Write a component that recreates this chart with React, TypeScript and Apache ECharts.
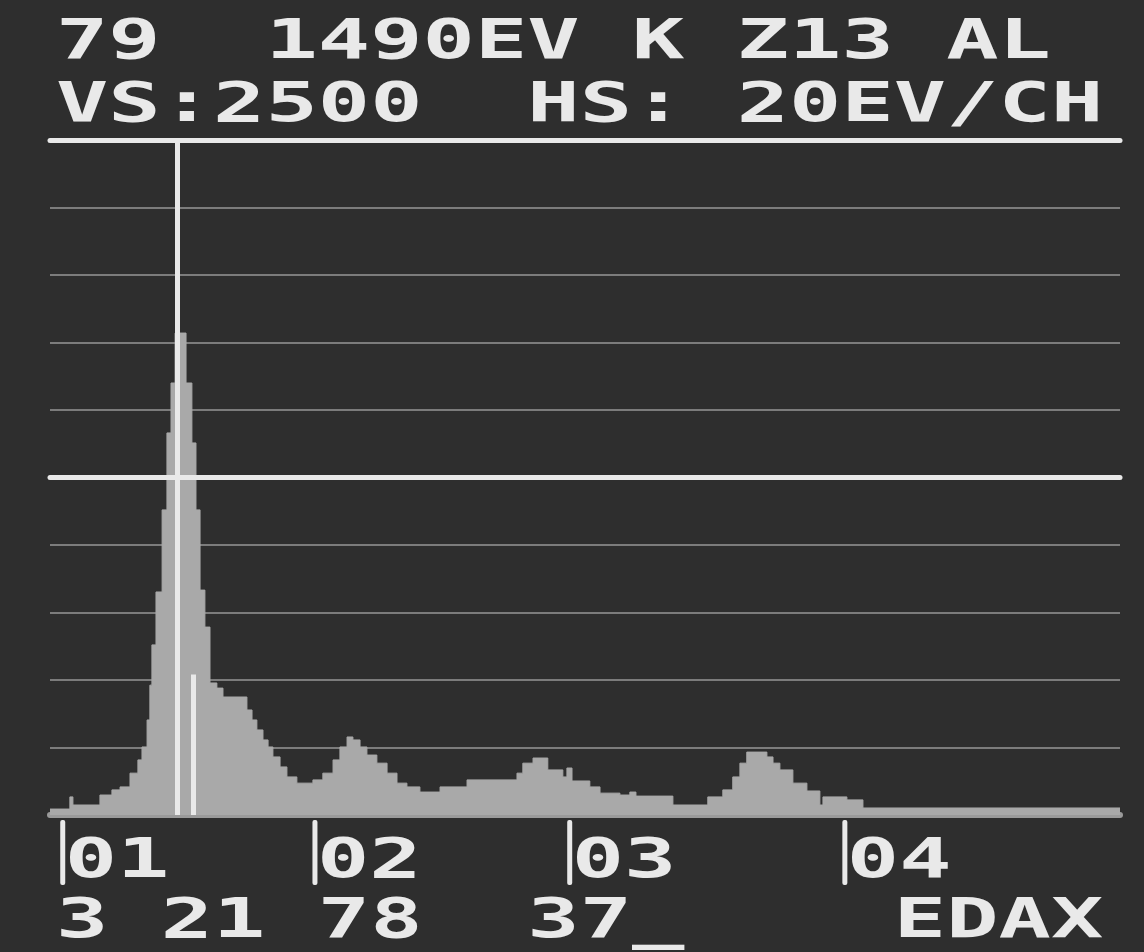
import React, { useEffect, useRef } from 'react';
import * as echarts from 'echarts';

// Spectrum staircase: channel-group start energy (keV) and counts held until the next entry
const ENERGY_KEV = [0.95, 1.028, 1.04, 1.146, 1.193, 1.225, 1.264, 1.295, 1.311, 1.331, 1.342, 1.35, 1.366, 1.39, 1.409, 1.425, 1.441, 1.484, 1.507, 1.523, 1.539, 1.558, 1.578, 1.605, 1.629, 1.723, 1.743, 1.762, 1.786, 1.806, 1.825, 1.853, 1.88, 1.919, 1.982, 2.021, 2.061, 2.088, 2.116, 2.139, 2.167, 2.194, 2.233, 2.273, 2.312, 2.351, 2.402, 2.481, 2.587, 2.783, 2.806, 2.846, 2.904, 2.963, 2.979, 2.999, 3.069, 3.109, 3.187, 3.226, 3.25, 3.395, 3.532, 3.591, 3.63, 3.658, 3.685, 3.764, 3.788, 3.815, 3.866, 3.921, 3.972, 3.984, 4.078, 4.141, 5.15];
const COUNTS = [22, 67, 37, 74, 93, 104, 155, 204, 252, 352, 481, 630, 826, 1130, 1415, 1600, 1785, 1600, 1378, 1130, 833, 696, 489, 470, 437, 389, 352, 315, 278, 252, 215, 178, 141, 118, 130, 155, 204, 252, 289, 278, 252, 222, 192, 155, 118, 104, 85, 104, 130, 155, 192, 211, 167, 141, 174, 126, 104, 81, 74, 85, 70, 37, 67, 93, 141, 192, 233, 215, 192, 167, 118, 89, 37, 67, 56, 26, 26];

const X_MIN_KEV = 0.95;
const X_MAX_KEV = 5.15;
const Y_MAX = 2500;
const Y_INTERVAL = 250;
const THICK_LEVELS = [2500, 1250];
const CURSOR_KEV = 1.452;
const KLM_KEV = 1.511;
const KLM_HEIGHT = 520;

const HEADER_LINES = ['79  1490EV K Z13 AL', 'VS:2500  HS: 20EV/CH'];
const FOOTER_LINE = '3 21 78  37_    EDAX';
const MARKER_KEV = [1.0, 1.99, 2.99, 4.07];
const MARKER_LABELS = ['01', '02', '03', '04'];

const BG = '#2e2e2e';
const HIST = '#a9a9a9';
const WHITE = '#e9e9e9';
const GRID = '#7c7c7c';

export default function App() {
  const ref = useRef<HTMLDivElement>(null);
  useEffect(() => {
    document.body.style.margin = '0';
    document.body.style.background = BG;
    const chart = echarts.init(ref.current as HTMLDivElement, null, { renderer: 'svg' });
    const font = 'bold 87px "DejaVu Sans Mono", monospace';
    const textEl = (text: string, x: number, y: number) => ({
      type: 'text',
      x,
      y,
      scaleY: 0.63,
      z: 20,
      silent: true,
      style: { text, font, fill: WHITE, textVerticalAlign: 'middle', verticalAlign: 'middle' },
    });

    chart.setOption({
      backgroundColor: BG,
      animation: false,
      grid: { left: 50, right: 24, top: 140, bottom: 137 },
      xAxis: {
        type: 'value',
        min: X_MIN_KEV,
        max: X_MAX_KEV,
        axisLabel: { show: false },
        axisTick: { show: false },
        splitLine: { show: false },
        axisLine: { show: true, lineStyle: { color: '#9a9a9a', width: 6 } },
      },
      yAxis: {
        type: 'value',
        min: 0,
        max: Y_MAX,
        interval: Y_INTERVAL,
        axisLabel: { show: false },
        axisTick: { show: false },
        axisLine: { show: false },
        splitLine: { show: true, lineStyle: { color: GRID, width: 2 } },
      },
      series: [
        {
          type: 'line',
          data: [],
          z: 1,
          silent: true,
          markLine: {
            silent: true,
            symbol: 'none',
            label: { show: false },
            lineStyle: { color: WHITE, width: 5, type: 'solid', cap: 'round' },
            data: THICK_LEVELS.map((v) => ({ yAxis: v })),
          },
        },
        {
          type: 'line',
          step: 'end',
          z: 2,
          silent: true,
          symbol: 'none',
          data: ENERGY_KEV.map((e, i) => [e, COUNTS[i]]),
          lineStyle: { width: 1, color: HIST },
          areaStyle: { color: HIST, opacity: 1 },
        },
        {
          type: 'line',
          data: [],
          z: 3,
          silent: true,
          markLine: {
            silent: true,
            symbol: 'none',
            label: { show: false },
            lineStyle: { color: WHITE, width: 5, type: 'solid' },
            data: [
              { xAxis: CURSOR_KEV },
              [{ coord: [KLM_KEV, 0] }, { coord: [KLM_KEV, KLM_HEIGHT] }],
            ],
          },
        },
      ],
    });

    const graphics: any[] = [
      textEl(HEADER_LINES[0], 56, 39),
      textEl(HEADER_LINES[1], 56, 102),
      textEl(FOOTER_LINE, 56, 918),
    ];
    MARKER_KEV.forEach((v, i) => {
      const px = chart.convertToPixel({ xAxisIndex: 0 }, v) as number;
      graphics.push({
        type: 'rect',
        z: 20,
        silent: true,
        shape: { x: px - 2.5, y: 820, width: 5, height: 65, r: 2 },
        style: { fill: WHITE },
      });
      graphics.push(textEl(MARKER_LABELS[i], px + 2, 858));
    });
    chart.setOption({ graphic: graphics });

    return () => chart.dispose();
  }, []);
  return <div ref={ref} style={{ width: 1144, height: 952, background: BG }} />;
}
